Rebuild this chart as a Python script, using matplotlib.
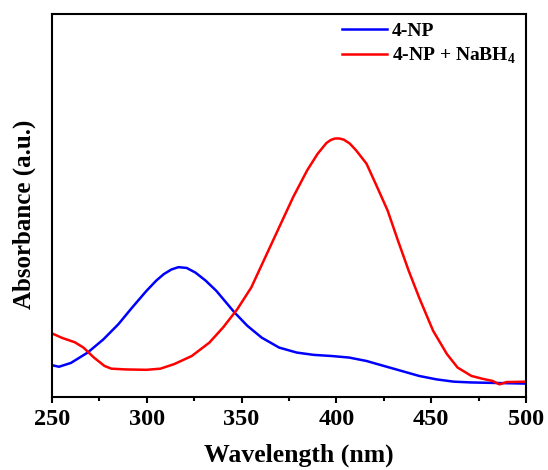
import numpy as np
import matplotlib.pyplot as plt

# fonts and axes style
plt.rcParams["font.family"] = "Liberation Serif"
plt.rcParams["font.weight"] = "bold"
plt.rcParams["axes.labelweight"] = "bold"
plt.rcParams["mathtext.fontset"] = "custom"
plt.rcParams["mathtext.rm"] = "Liberation Serif:bold"
plt.rcParams["mathtext.bf"] = "Liberation Serif:bold"
plt.rcParams["axes.linewidth"] = 1.5
plt.rcParams["xtick.direction"] = "out"
plt.rcParams["xtick.major.width"] = 1.5
plt.rcParams["xtick.minor.width"] = 1.5
plt.rcParams["xtick.major.size"] = 4.5
plt.rcParams["xtick.minor.size"] = 3.0

# UV-vis spectra (absorbance, arbitrary units)
wl_np = [250.0, 253.7, 260.0, 268.8, 277.0, 285.0, 292.0, 299.8, 305.0, 309.0,
         313.0, 316.7, 321.0, 325.6, 331.0, 336.7, 346.2, 353.0, 360.6, 369.8,
         379.1, 388.0, 397.5, 406.7, 415.9, 425.1, 434.4, 443.6, 452.8, 462.0,
         471.0, 480.5, 490.0, 500.0]
abs_np = [0.083, 0.079, 0.089, 0.116, 0.150, 0.190, 0.232, 0.277, 0.304, 0.321,
          0.333, 0.339, 0.337, 0.325, 0.304, 0.277, 0.221, 0.186, 0.155, 0.129,
          0.116, 0.110, 0.107, 0.103, 0.094, 0.081, 0.068, 0.055, 0.046, 0.040,
          0.038, 0.037, 0.036, 0.035]

wl_nabh4 = [250.0, 255.5, 262.0, 266.6, 272.1, 277.7, 281.3, 288.7, 299.8, 307.2,
            314.5, 323.7, 333.0, 340.3, 347.7, 355.1, 362.5, 369.8, 377.2, 384.6,
            390.1, 394.7, 397.0, 399.3, 401.5, 403.9, 407.0, 410.4, 415.9, 421.5,
            427.0, 432.5, 438.1, 443.6, 451.0, 458.3, 463.9, 471.2, 476.7, 482.3,
            486.0, 489.7, 500.0]
abs_nabh4 = [0.166, 0.154, 0.143, 0.129, 0.103, 0.081, 0.074, 0.072, 0.071, 0.074,
             0.086, 0.107, 0.142, 0.182, 0.229, 0.286, 0.365, 0.443, 0.522, 0.592,
             0.635, 0.663, 0.671, 0.675, 0.675, 0.672, 0.662, 0.644, 0.609, 0.548,
             0.487, 0.408, 0.330, 0.260, 0.173, 0.112, 0.077, 0.055, 0.048, 0.042,
             0.033, 0.039, 0.040]

fig = plt.figure(figsize=(5.48, 4.70), dpi=100)
ax = fig.add_axes([52 / 548, 1 - 397 / 470, 474 / 548, 383 / 470])

ax.plot(wl_np, abs_np, color="#0000ff", linewidth=1.8, label="4-NP")
ax.plot(wl_nabh4, abs_nabh4, color="#ff0000", linewidth=1.8,
        label="4-NP + NaBH$_\\mathbf{4}$")

ax.set_xlim(250, 500)
ax.set_ylim(0, 1)
ax.set_xticks(np.arange(250, 501, 50))
ax.set_xticks(np.arange(275, 500, 50), minor=True)
ax.set_yticks([])
ax.tick_params(axis="x", labelsize=17.5, pad=4)

ax.set_xlabel("Wavelength (nm)", fontsize=18.5, labelpad=10)
ax.set_ylabel("Absorbance (a.u.)", fontsize=18, labelpad=11.5)
ax.xaxis.label.set_x(0.521)
ax.yaxis.label.set_y(0.478)

ax.legend(loc="upper left", bbox_to_anchor=(0.612, 0.979), frameon=False,
          fontsize=14, handlelength=2.3, handletextpad=0.25,
          borderpad=0, borderaxespad=0, labelspacing=0.3)

plt.savefig("out.png", dpi=100)
